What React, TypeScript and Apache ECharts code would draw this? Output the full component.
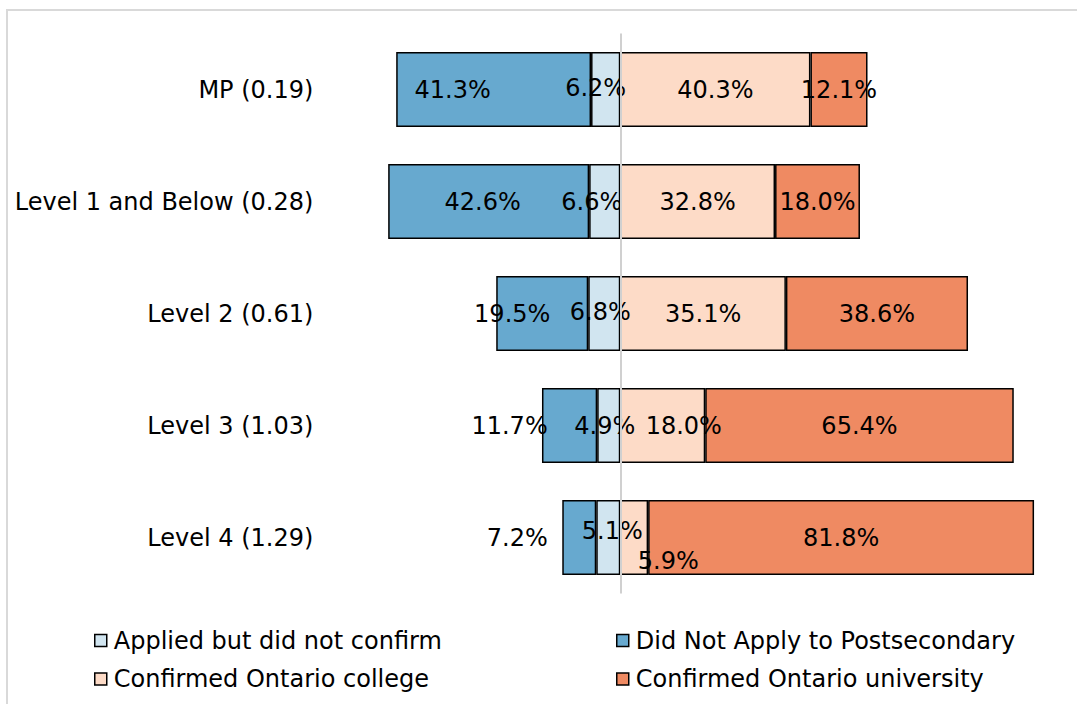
import React, { useEffect, useRef } from "react";
import * as echarts from "echarts";

const categories = ["MP (0.19)", "Level 1 and Below (0.28)", "Level 2 (0.61)", "Level 3 (1.03)", "Level 4 (1.29)"];
const didNotApply = [41.3, 42.6, 19.5, 11.7, 7.2];
const appliedNotConfirm = [6.2, 6.6, 6.8, 4.9, 5.1];
const confirmedCollege = [40.3, 32.8, 35.1, 18.0, 5.9];
const confirmedUniversity = [12.1, 18.0, 38.6, 65.4, 81.8];

const seriesNames = {
  applied: "Applied but did not confirm",
  dna: "Did Not Apply to Postsecondary",
  college: "Confirmed Ontario college",
  univ: "Confirmed Ontario university",
};

// label nudges (pixels), as placed in the original
const dnaLabelOffsets = [[-41, 0], [-6, 0], [-30, 0], [-60, 0], [-62, 0]];
const appliedLabelOffsets = [[-10, -2], [-13, 0], [-4, -2], [-4, 0], [4, -7]];
const collegeLabelOffsets = [[0, 0], [0, 0], [0, 0], [21, 0], [34, 23]];
const univLabelOffsets = [[0, 0], [0, 0], [0, 0], [0, 0], [0, 0]];

const FONT = "DejaVu Sans";
const COLORS = { dna: "#67A9CF", applied: "#D1E5F0", college: "#FDDBC7", univ: "#EF8A62" };

function buildData(values: number[], sign: number, offsets: number[][]) {
  return values.map((v, i) => ({ value: sign * v, label: { offset: offsets[i] } }));
}

export default function App() {
  const ref = useRef<HTMLDivElement>(null);
  useEffect(() => {
    if (!ref.current) return;
    const chart = echarts.init(ref.current, undefined, { renderer: "svg" });
    const labelCfg = {
      show: true,
      position: "inside",
      fontFamily: FONT,
      fontSize: 24,
      color: "#000",
      formatter: (p: any) => Math.abs(p.value).toFixed(1) + "%",
    };
    const mkSeries = (key: keyof typeof COLORS, data: any[], extra: any = {}) => ({
      type: "bar",
      name: (seriesNames as any)[key],
      stack: "total",
      barWidth: 75,
      data,
      itemStyle: { color: COLORS[key], borderColor: "#000", borderWidth: 1.5 },
      label: labelCfg,
      ...extra,
    });
    const legendBase = {
      orient: "horizontal",
      itemWidth: 12,
      itemHeight: 12,
      icon: "rect",
      textStyle: { fontFamily: FONT, fontSize: 24, color: "#000", lineHeight: 24, padding: [0, 0, 0, 2] },
      itemStyle: { borderColor: "#000", borderWidth: 1.5 },
    };
    chart.setOption({
      animation: false,
      backgroundColor: "#fff",
      grid: { left: 384.4, right: 8.5, top: 33.5, bottom: 110.5, containLabel: false },
      xAxis: {
        type: "value",
        min: -50,
        max: 95,
        show: false,
      },
      yAxis: {
        type: "category",
        data: categories,
        inverse: true,
        axisLine: { show: false },
        axisTick: { show: false },
        axisLabel: { fontFamily: FONT, fontSize: 24, color: "#000", margin: 71 },
      },
      legend: [
        { ...legendBase, data: [seriesNames.applied], left: 89, top: 623.5 },
        { ...legendBase, data: [seriesNames.dna], left: 611, top: 623.5 },
        { ...legendBase, data: [seriesNames.college], left: 89, top: 662 },
        { ...legendBase, data: [seriesNames.univ], left: 611, top: 662 },
      ],
      graphic: [
        {
          type: "rect",
          shape: { x: 7, y: 10, width: 1100, height: 720 },
          style: { fill: "none", stroke: "#d9d9d9", lineWidth: 2 },
          silent: true,
          z: -10,
        },
      ],
      series: [
        mkSeries("applied", buildData(appliedNotConfirm, -1, appliedLabelOffsets)),
        mkSeries("dna", buildData(didNotApply, -1, dnaLabelOffsets)),
        mkSeries("college", buildData(confirmedCollege, 1, collegeLabelOffsets)),
        mkSeries("univ", buildData(confirmedUniversity, 1, univLabelOffsets), {
          markLine: {
            silent: true,
            symbol: ["none", "none"],
            label: { show: false },
            lineStyle: { color: "#d0d0d0", width: 2, type: "solid" },
            data: [{ xAxis: 0 }],
            z: 10,
          },
        }),
      ],
    });
    return () => chart.dispose();
  }, []);
  return (
    <div
      ref={ref}
      style={{ position: "fixed", left: 0, top: 0, width: 1077, height: 704, background: "#fff" }}
    />
  );
}
